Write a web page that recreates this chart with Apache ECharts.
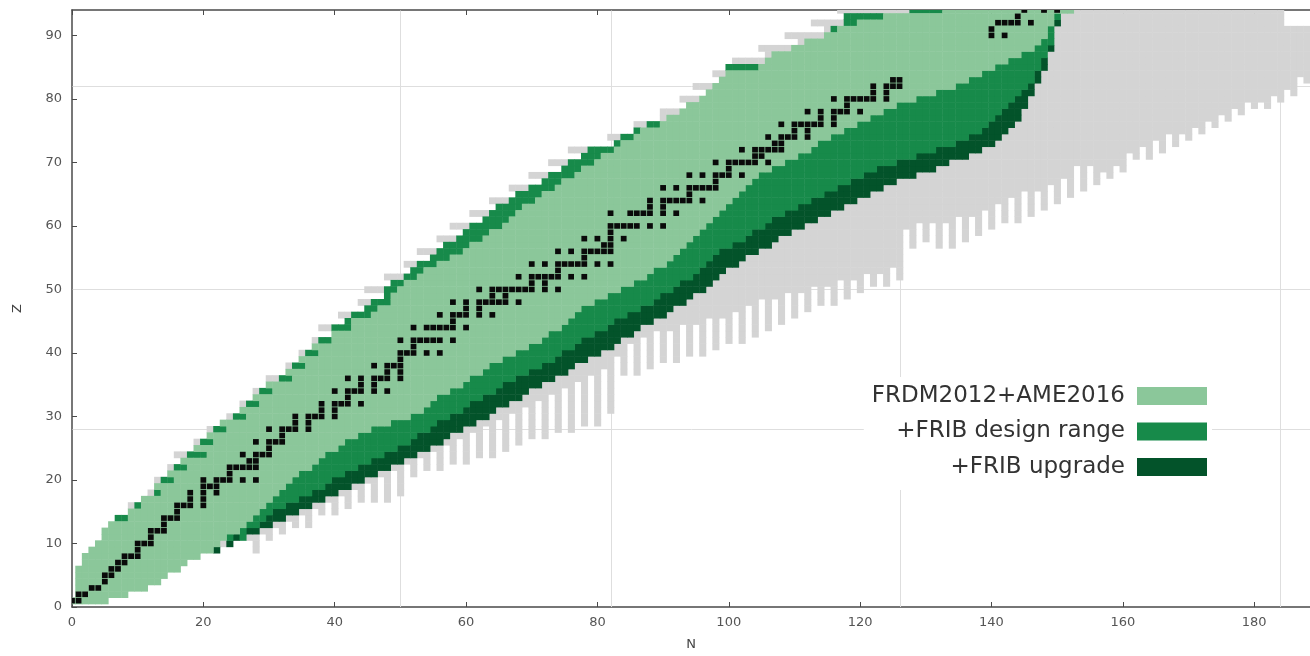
<!DOCTYPE html>
<html>
<head>
<meta charset="utf-8">
<script src="https://cdn.jsdelivr.net/npm/echarts@6/dist/echarts.min.js"></script>
<style>
html,body{margin:0;padding:0;background:#fff;}
#chart{width:1310px;height:656px;}
</style>
</head>
<body>
<div id="chart"></div>
<script>
// ---------- DATA ----------
// Series names / legend labels
const SERIES_NAMES = ['FRDM2012+AME2016', '+FRIB design range', '+FRIB upgrade'];
const X_TICKS = [0, 20, 40, 60, 80, 100, 120, 140, 160, 180];
const Y_TICKS = [0, 10, 20, 30, 40, 50, 60, 70, 80, 90];
// magic-number reference lines
const GRID_N = [50, 82, 126, 184];
const GRID_Z = [28, 50, 82];

// Neutron-rich side: lowest Z of each region, per N (index = N, 0..188); 99 = none
const N_LIGHT_LO = [
 1,1,1,1,1,1,2,2,2,3,
 3,3,4,4,5,6,6,7,8,8,
 9,9,10,11,12,12,13,14,15,16,
 17,18,19,20,21,22,22,23,24,25,
 25,26,27,27,28,28,29,29,29,30,
 30,30,31,31,32,33,34,34,35,35,
 36,37,37,38,39,39,40,40,41,41,
 42,42,43,44,44,45,46,47,48,48,
 49,49,50,50,51,51,52,52,53,54,
 54,55,56,57,58,59,60,61,62,63,
 64,65,66,67,68,69,69,70,70,71,
 71,72,72,73,74,74,75,75,76,76,
 77,77,78,78,79,79,80,80,80,81,
 81,81,82,82,82,83,83,84,84,85,
 85,86,86,87,87,88,88,89,90,92,
 94,94,94,99,99,99,99,99,99,99,
 99,99,99,99,99,99,99,99,99,99,
 99,99,99,99,99,99,99,99,99,99,
 99,99,99,99,99,99,99,99,99
];
const N_DESIGN_LO = [
 1,1,1,1,1,1,2,2,2,3,
 3,3,4,4,5,6,6,7,8,8,
 9,9,10,11,11,12,11,13,13,14,
 15,16,16,17,17,18,18,19,19,20,
 21,21,22,22,23,23,24,24,25,25,
 26,26,27,28,28,29,30,30,31,31,
 32,33,33,34,34,35,36,36,37,37,
 38,38,39,39,40,41,41,42,43,43,
 44,44,45,46,46,47,47,48,48,49,
 50,50,51,52,52,53,54,55,56,57,
 57,58,58,59,60,60,61,62,62,63,
 63,64,64,65,65,66,66,67,67,68,
 68,69,69,70,70,70,71,71,71,72,
 72,72,73,73,73,74,74,75,75,76,
 77,78,79,80,81,82,83,85,87,89,
 93,94,94,99,99,99,99,99,99,99,
 99,99,99,99,99,99,99,99,99,99,
 99,99,99,99,99,99,99,99,99,99,
 99,99,99,99,99,99,99,99,99
];
const N_UPGRADE_LO = [
 1,1,1,1,1,1,2,2,2,3,
 3,3,4,4,5,6,6,7,8,8,
 9,9,9,11,10,11,11,12,12,13,
 13,14,14,15,15,16,16,17,17,18,
 18,19,19,20,20,21,21,22,22,23,
 23,24,24,25,25,26,26,27,28,28,
 29,29,30,30,31,32,32,33,33,34,
 35,35,36,36,37,37,38,39,39,40,
 40,41,41,42,43,43,44,45,45,46,
 46,47,48,48,49,50,50,51,52,53,
 54,54,55,56,56,57,57,58,59,59,
 60,60,61,61,62,62,63,63,64,64,
 65,65,66,66,67,67,68,68,68,69,
 69,69,70,70,71,71,71,72,72,73,
 73,74,75,76,77,79,81,83,85,88,
 92,94,94,99,99,99,99,99,99,99,
 99,99,99,99,99,99,99,99,99,99,
 99,99,99,99,99,99,99,99,99,99,
 99,99,99,99,99,99,99,99,99
];
const N_GREY_LO = [
 1,1,1,1,1,1,2,2,2,3,
 3,3,4,4,5,6,6,7,8,8,
 9,9,9,10,10,11,11,11,9,12,
 11,13,12,14,13,15,13,16,15,17,
 15,18,16,19,17,20,17,21,17,22,
 18,23,21,24,22,25,22,26,23,27,
 23,28,24,29,24,30,25,31,26,32,
 27,33,27,34,28,35,28,36,29,37,
 29,38,31,40,37,42,37,43,38,44,
 39,44,39,45,40,45,40,46,41,46,
 42,47,42,48,43,49,44,49,45,50,
 46,50,47,51,48,51,48,52,49,52,
 50,53,51,53,51,54,52,60,57,61,
 58,61,57,61,57,62,58,62,59,63,
 60,64,61,65,61,66,62,66,63,67,
 64,68,65,70,66,70,67,69,68,70,
 69,72,71,73,71,74,72,75,73,75,
 74,76,75,77,76,78,77,79,78,80,
 79,80,79,81,80,82,81,84,83
];
// columns whose grey region stops below the top of the frame
const GREY_TOP_N = [185, 186, 187, 188];
const GREY_TOP_Z = [91, 91, 91, 91];

// Proton-rich side: lowest N of each region, per Z (index = Z, 0..94); 999 = none
const Z_LIGHT_LO = [
 999,0,1,1,1,1,1,2,2,3,
 4,5,5,6,9,9,11,11,14,13,
 16,15,18,17,21,19,22,21,24,23,
 27,26,29,28,31,30,34,33,36,35,
 38,37,40,40,43,43,46,47,49,49,
 50,51,53,54,56,58,60,61,63,64,
 66,67,68,69,71,72,74,75,77,78,
 80,81,83,84,86,87,90,91,93,94,
 96,97,98,99,100,105,106,107,110,112,
 115,117,120,124,133
];
const Z_DESIGN_LO = [
 999,0,1,1,1,1,1,2,2,3,
 4,5,5,6,7,9,10,11,13,13,
 14,15,16,17,18,19,20,21,22,23,
 25,26,27,28,29,30,32,33,34,35,
 36,37,38,40,40,42,43,45,46,48,
 48,49,51,52,53,55,56,57,59,60,
 61,63,64,65,67,68,70,72,73,75,
 76,78,79,83,84,86,88,91,93,94,
 96,97,98,99,100,100,106,107,110,112,
 115,116,118,118,128
];
const Z_GREY_LO = [
 999,0,1,1,1,1,1,2,2,3,
 4,5,5,6,7,9,9,11,12,13,
 13,15,15,17,16,19,19,21,21,23,
 24,26,26,28,28,30,30,33,33,35,
 35,37,37,40,38,42,41,45,44,48,
 45,49,48,52,51,55,53,57,56,60,
 58,63,61,65,64,68,67,72,70,75,
 73,78,76,83,82,86,86,90,90,94,
 93,97,95,99,98,100,101,106,105,111,
 109,115,113,118,117
];

// Stable / long-lived nuclei: mass numbers A for each Z (index = Z)
const STABLE_A = [
 [], [1,2], [3,4], [6,7], [9], [10,11], [12,13], [14,15], [16,17,18], [19],
 [20,21,22], [23], [24,25,26], [27], [28,29,30], [31], [32,33,34,36], [35,37], [36,38,40], [39,40,41],
 [40,42,43,44,46,48], [45], [46,47,48,49,50], [50,51], [50,52,53,54], [55], [54,56,57,58], [59], [58,60,61,62,64], [63,65],
 [64,66,67,68,70], [69,71], [70,72,73,74,76], [75], [74,76,77,78,80,82], [79,81], [78,80,82,83,84,86], [85,87], [84,86,87,88], [89],
 [90,91,92,94,96], [93], [92,94,95,96,97,98,100], [], [96,98,99,100,101,102,104], [103], [102,104,105,106,108,110], [107,109], [106,108,110,111,112,113,114,116], [113,115],
 [112,114,115,116,117,118,119,120,122,124], [121,123], [120,122,123,124,125,126,128,130], [127], [124,126,128,129,130,131,132,134,136], [133], [130,132,134,135,136,137,138], [138,139], [136,138,140,142], [141],
 [142,143,144,145,146,148,150], [], [144,147,148,149,150,152,154], [151,153], [152,154,155,156,157,158,160], [159], [156,158,160,161,162,163,164], [165], [162,164,166,167,168,170], [169],
 [168,170,171,172,173,174,176], [175,176], [174,176,177,178,179,180], [180,181], [180,182,183,184,186], [185,187], [184,186,187,188,189,190,192], [191,193], [190,192,194,195,196,198], [197],
 [196,198,199,200,201,202,204], [203,205], [204,206,207,208], [208,209], [], [], [], [], [], [],
 [230,232], [231], [233,234,235,236,238], [237], [239,242,244]
];

// ---------- COLOURS ----------
const COL_GREY = '#d4d4d4';
const COL_LIGHT = '#8bc79a';
const COL_DESIGN = '#178a4a';
const COL_UPGRADE = '#03532a';
const COL_STABLE = '#0a0a0a';

// ---------- BUILD CELLS ----------
const N_MAX = N_GREY_LO.length - 1;
const Z_MAX = Z_GREY_LO.length - 1;
function greyTop(n) {
  const i = GREY_TOP_N.indexOf(n);
  return i >= 0 ? GREY_TOP_Z[i] : Z_MAX;
}
const cells = [[], [], [], []]; // 0 grey, 1 upgrade, 2 design, 3 light
for (let n = 0; n <= N_MAX; n++) {
  for (let z = 0; z <= Z_MAX; z++) {
    if (z < N_GREY_LO[n] || n < Z_GREY_LO[z] || z > greyTop(n)) continue;
    let nc = 0;
    if (z >= N_LIGHT_LO[n]) nc = 3;
    else if (z >= N_DESIGN_LO[n]) nc = 2;
    else if (z >= N_UPGRADE_LO[n]) nc = 1;
    let pc = 0;
    if (n >= Z_LIGHT_LO[z]) pc = 3;
    else if (n >= Z_DESIGN_LO[z]) pc = 2;
    const c = Math.min(nc, pc);
    cells[c].push([n, z]);
  }
}
const stable = [];
STABLE_A.forEach((list, z) => list.forEach(a => stable.push([a - z, z])));

function cellRender(scale) {
  return function (params, api) {
    const n = api.value(0), z = api.value(1);
    const h = scale / 2;
    const p0 = api.coord([n - h, z + h]);
    const p1 = api.coord([n + h, z - h]);
    const pad = scale >= 1 ? 0.5 : 0;
    return {
      type: 'rect',
      shape: { x: p0[0], y: p0[1], width: p1[0] - p0[0] + pad, height: p1[1] - p0[1] + pad },
      style: { fill: api.visual('color') }
    };
  };
}

const gridData = GRID_N.map(v => [0, v]).concat(GRID_Z.map(v => [1, v]));

const chart = echarts.init(document.getElementById('chart'), null, { renderer: 'canvas' });
const FONT = 'DejaVu Sans';
const axisCommon = {
  type: 'value',
  axisLine: { show: true, lineStyle: { color: '#4a4a4a', width: 1.5 } },
  axisTick: { show: true, inside: true, length: 5, lineStyle: { color: '#4a4a4a' } },
  splitLine: { show: false }
};
chart.setOption({
  animation: false,
  backgroundColor: '#fff',
  grid: { left: 72, right: 0, top: 10, bottom: 49, containLabel: false },
  legend: {
    data: SERIES_NAMES,
    orient: 'vertical',
    align: 'right',
    right: 98,
    top: 377,
    padding: [7, 5, 11, 8],
    backgroundColor: '#ffffff',
    itemWidth: 70,
    itemHeight: 18,
    itemGap: 11.5,
    icon: 'rect',
    selectedMode: false,
    textStyle: { fontFamily: FONT, fontSize: 23, color: '#333', lineHeight: 24, padding: [0, 7, 0, 0] }
  },
  xAxis: [
    Object.assign({}, axisCommon, {
      min: 0, max: 188.5, interval: 20, position: 'bottom',
      name: 'N', nameLocation: 'middle', nameGap: 31,
      nameTextStyle: { fontFamily: FONT, fontSize: 13, color: '#444' },
      axisLabel: { fontFamily: FONT, fontSize: 13, color: '#555', margin: 9, showMaxLabel: false,
        formatter: v => X_TICKS.indexOf(v) >= 0 ? String(v) : '' }
    }),
    Object.assign({}, axisCommon, {
      min: 0, max: 188.5, interval: 20, position: 'top',
      axisLabel: { show: false }
    })
  ],
  yAxis: [
    Object.assign({}, axisCommon, {
      min: 0, max: 94, interval: 10,
      name: 'Z', nameLocation: 'middle', nameGap: 48, nameRotate: 90,
      nameTextStyle: { fontFamily: FONT, fontSize: 13, color: '#444' },
      axisLabel: { fontFamily: FONT, fontSize: 13, color: '#555', margin: 10, showMaxLabel: false,
        formatter: v => Y_TICKS.indexOf(v) >= 0 ? String(v) : '' }
    })
  ],
  series: [
    {
      name: 'grid', type: 'custom', clip: true, silent: true, z: 1,
      data: gridData,
      renderItem: function (params, api) {
        const kind = api.value(0), v = api.value(1);
        let a, b;
        if (kind === 0) { a = api.coord([v, 0]); b = api.coord([v, 94]); }
        else { a = api.coord([0, v]); b = api.coord([188.5, v]); }
        return { type: 'line', shape: { x1: Math.round(a[0]) + 0.5, y1: Math.round(a[1]) + 0.5, x2: Math.round(b[0]) + 0.5, y2: Math.round(b[1]) + 0.5 },
          style: { stroke: '#dedede', lineWidth: 1 } };
      }
    },
    { name: 'grey', type: 'custom', clip: true, silent: true, z: 2, itemStyle: { color: COL_GREY },
      data: cells[0], renderItem: cellRender(1) },
    { name: SERIES_NAMES[2], type: 'custom', clip: true, silent: true, z: 3, itemStyle: { color: COL_UPGRADE },
      data: cells[1], renderItem: cellRender(1) },
    { name: SERIES_NAMES[1], type: 'custom', clip: true, silent: true, z: 3, itemStyle: { color: COL_DESIGN },
      data: cells[2], renderItem: cellRender(1) },
    { name: SERIES_NAMES[0], type: 'custom', clip: true, silent: true, z: 3, itemStyle: { color: COL_LIGHT },
      data: cells[3], renderItem: cellRender(1) },
    { name: 'stable', type: 'custom', clip: true, silent: true, z: 4, itemStyle: { color: COL_STABLE },
      data: stable, renderItem: cellRender(0.88) }
  ]
});
</script>
</body>
</html>
